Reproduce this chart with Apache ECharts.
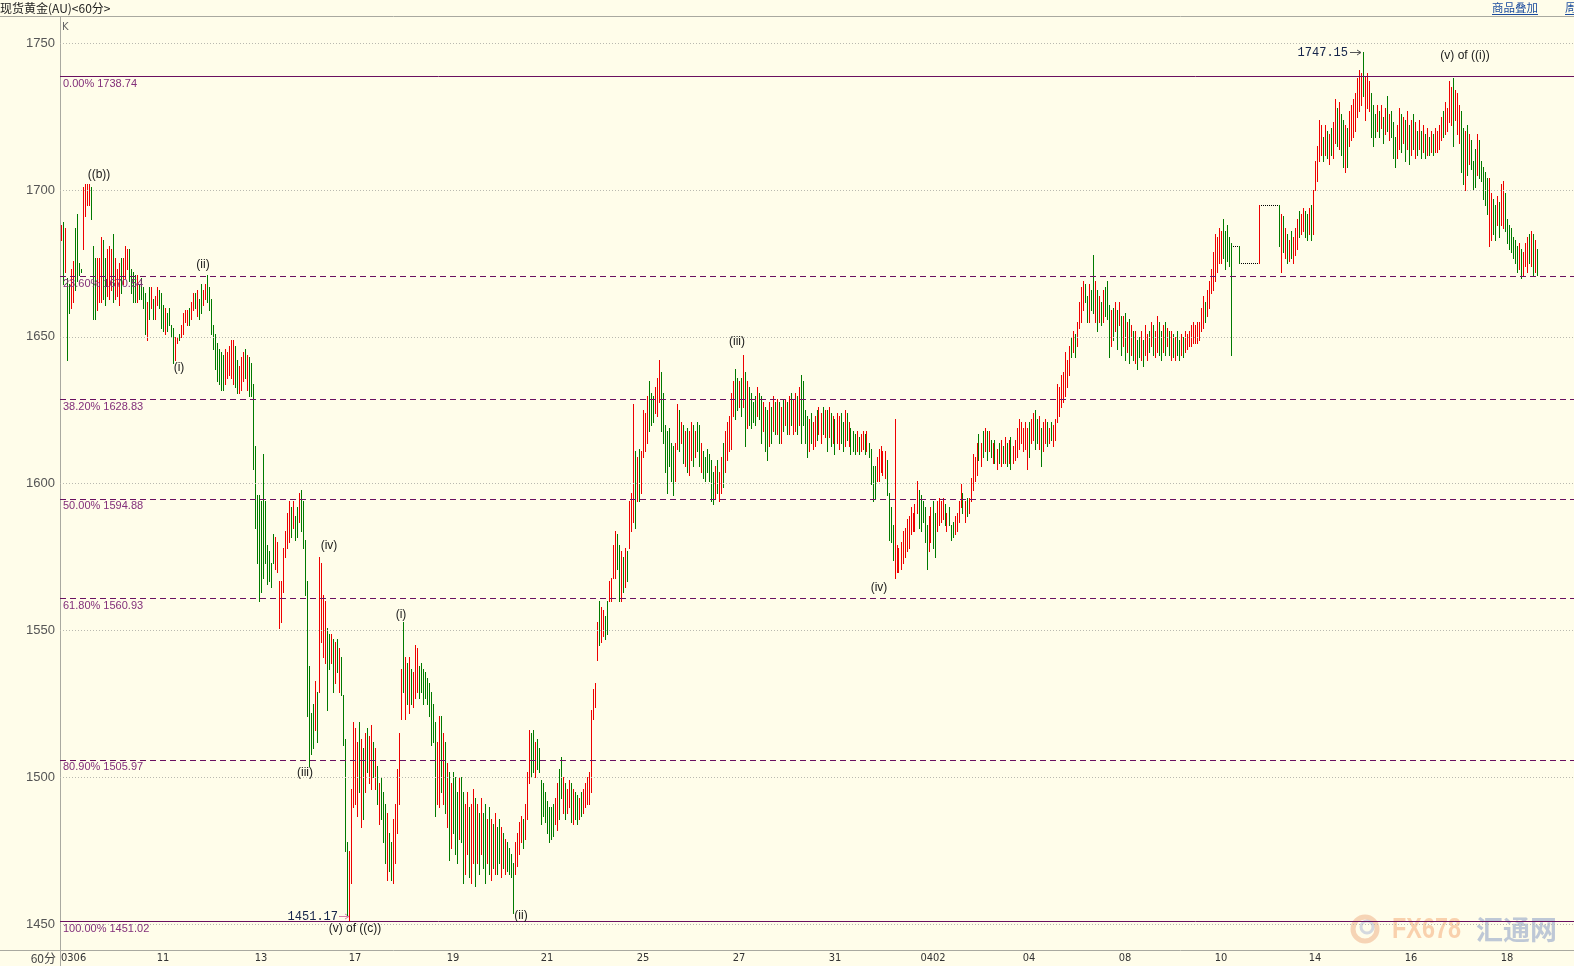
<!DOCTYPE html>
<html><head><meta charset="utf-8">
<script src="https://cdn.jsdelivr.net/npm/echarts@6/dist/echarts.min.js"></script>
<style>html,body{margin:0;padding:0;background:#fffdea;overflow:hidden;}#c{width:1574px;height:966px;}</style>
</head><body><div id="c"></div>
<script>
// ---- data (hourly bars) ----
const highs = [
1688,1689,1687,1670,1668,1673,1676,1687,1692,1675,
1673,1701,1702,1702,1702,1701,1681,1677,1677,1677,
1684,1683,1677,1680,1681,1680,1685,1677,1673,1675,
1677,1677,1681,1680,1680,1673,1672,1671,1671,1668,
1670,1667,1665,1662,1667,1667,1663,1664,1667,1666,
1665,1661,1660,1658,1660,1654,1653,1650,1650,1651,
1654,1658,1659,1659,1660,1662,1665,1665,1666,1663,
1668,1666,1668,1671,1667,1663,1654,1651,1648,1646,
1645,1644,1646,1645,1647,1649,1649,1647,1642,1640,
1643,1645,1646,1644,1643,1641,1634,1613,1596,1596,
1594,1610,1594,1579,1577,1573,1583,1582,1580,1567,
1567,1578,1584,1590,1594,1592,1594,1589,1592,1597,
1598,1594,1581,1567,1538,1522,1525,1533,1529,1575,
1573,1562,1560,1551,1549,1549,1547,1546,1547,1544,
1541,1528,1513,1478,1475,1496,1519,1517,1512,1519,
1513,1510,1515,1517,1514,1518,1512,1510,1504,1498,
1500,1495,1491,1488,1481,1478,1486,1491,1503,1515,
1537,1553,1541,1539,1541,1537,1536,1545,1544,1538,
1539,1537,1536,1534,1532,1529,1525,1519,1512,1521,
1521,1515,1512,1505,1502,1498,1502,1500,1495,1500,
1500,1495,1491,1495,1490,1491,1496,1493,1491,1488,
1493,1488,1491,1486,1490,1486,1484,1488,1483,1486,
1483,1481,1479,1478,1476,1474,1471,1478,1481,1485,
1487,1486,1491,1502,1516,1515,1516,1512,1513,1510,
1499,1498,1495,1492,1490,1490,1491,1493,1498,1503,
1507,1500,1498,1496,1499,1498,1496,1495,1494,1493,
1495,1496,1498,1500,1502,1523,1530,1532,1553,1560,
1558,1557,1555,1560,1567,1568,1579,1584,1583,1579,
1577,1575,1578,1577,1594,1597,1627,1611,1609,1612,
1611,1625,1624,1630,1635,1631,1630,1633,1636,1642,
1638,1631,1620,1618,1619,1614,1613,1614,1627,1625,
1621,1620,1618,1619,1618,1621,1620,1618,1621,1620,
1614,1611,1609,1612,1610,1608,1604,1606,1608,1604,
1609,1614,1618,1621,1623,1631,1635,1639,1636,1635,
1636,1644,1638,1635,1633,1631,1628,1630,1633,1631,
1630,1628,1626,1625,1628,1626,1630,1628,1629,1628,
1626,1629,1629,1628,1630,1631,1629,1631,1630,1633,
1637,1635,1625,1623,1622,1624,1621,1623,1625,1626,
1624,1626,1625,1625,1626,1624,1623,1622,1624,1623,
1624,1621,1625,1624,1621,1619,1618,1617,1618,1616,
1617,1618,1617,1618,1614,1612,1606,1606,1609,1612,
1613,1611,1611,1608,1597,1592,1586,1622,1579,1578,
1580,1584,1585,1588,1589,1592,1590,1593,1601,1598,
1596,1594,1592,1586,1589,1592,1594,1590,1594,1595,
1594,1595,1593,1590,1592,1586,1587,1589,1590,1594,
1600,1597,1594,1595,1595,1602,1610,1609,1614,1617,
1614,1618,1619,1618,1618,1615,1614,1615,1612,1614,
1615,1613,1616,1614,1615,1616,1613,1615,1619,1622,
1621,1619,1621,1619,1621,1622,1624,1625,1622,1623,
1619,1621,1622,1621,1619,1621,1620,1622,1634,1633,
1637,1638,1645,1642,1647,1650,1652,1651,1655,1662,
1667,1669,1668,1664,1668,1666,1678,1669,1666,1664,
1662,1666,1667,1669,1661,1659,1660,1662,1659,1662,
1657,1657,1658,1655,1656,1654,1652,1652,1649,1650,
1652,1649,1654,1651,1652,1655,1654,1652,1657,1655,
1652,1654,1655,1653,1652,1652,1651,1650,1652,1649,
1651,1650,1652,1651,1652,1654,1655,1654,1655,1655,
1660,1664,1662,1666,1669,1673,1679,1685,1684,1687,
1686,1690,1686,1688,1684,1682,1681,1681,1681,1681,
1675,1675,1675,1675,1675,1675,1675,1675,1675,1695,
1695,1695,1695,1695,1695,1695,1695,1695,1695,1695,
1692,1691,1687,1685,1683,1686,1684,1687,1690,1693,
1692,1694,1693,1692,1694,1695,1700,1710,1715,1724,
1722,1718,1722,1720,1719,1721,1723,1731,1728,1730,
1726,1724,1722,1721,1727,1729,1731,1733,1738,1741,
1740,1747.15,1739,1740,1737,1733,1729,1726,1729,1727,
1729,1725,1728,1732,1726,1727,1723,1718,1722,1728,
1726,1725,1724,1727,1722,1724,1726,1723,1720,1724,
1720,1722,1719,1721,1718,1720,1719,1721,1720,1722,
1725,1727,1730,1728,1737,1735,1738,1734,1733,1729,
1727,1721,1720,1722,1719,1717,1710,1714,1719,1717,
1710,1708,1706,1704,1704,1699,1697,1695,1698,1696,
1702,1703,1699,1690,1688,1687,1684,1683,1681,1682,
1680,1679,1682,1684,1685,1686,1685,1683,1680
];
const lows = [
1683,1668,1672,1642,1658,1660,1662,1666,1669,1671,
1672,1680,1691,1695,1695,1690,1656,1656,1659,1662,
1662,1663,1661,1664,1663,1666,1662,1663,1664,1661,
1665,1668,1670,1673,1669,1665,1662,1662,1662,1663,
1663,1660,1651,1649,1656,1660,1656,1656,1661,1660,
1653,1652,1651,1652,1654,1650,1641,1642,1648,1649,
1650,1651,1655,1654,1654,1656,1659,1660,1657,1656,
1658,1661,1663,1662,1659,1651,1646,1639,1635,1634,
1632,1632,1634,1636,1637,1636,1634,1633,1631,1631,
1632,1635,1636,1632,1630,1630,1605,1585,1573,1560,
1563,1568,1573,1566,1567,1565,1573,1571,1570,1551,
1553,1563,1575,1578,1580,1582,1585,1581,1582,1587,
1584,1578,1562,1521,1504,1508,1510,1516,1512,1529,
1546,1541,1539,1523,1537,1539,1529,1532,1536,1529,
1528,1511,1475,1453,1451.17,1464,1490,1491,1487,1495,
1483,1486,1495,1502,1498,1496,1500,1496,1491,1484,
1486,1478,1471,1465,1468,1465,1464,1471,1481,1491,
1520,1529,1520,1525,1522,1525,1524,1527,1529,1527,
1529,1525,1527,1525,1521,1511,1512,1487,1491,1490,
1495,1491,1488,1483,1472,1476,1481,1474,1471,1479,
1478,1464,1467,1474,1466,1464,1471,1463,1471,1467,
1474,1469,1464,1471,1467,1465,1469,1467,1467,1471,
1466,1469,1467,1468,1467,1466,1454,1467,1470,1474,
1478,1476,1479,1486,1498,1500,1502,1500,1503,1502,
1484,1487,1485,1481,1478,1479,1480,1484,1482,1486,
1493,1488,1486,1488,1490,1485,1484,1486,1484,1486,
1487,1488,1490,1491,1491,1495,1520,1524,1540,1545,
1546,1548,1547,1549,1560,1560,1568,1568,1571,1560,
1560,1563,1565,1567,1578,1584,1587,1585,1594,1594,
1597,1609,1611,1614,1618,1620,1621,1624,1623,1628,
1618,1614,1604,1597,1606,1601,1596,1601,1612,1611,
1614,1607,1606,1604,1603,1608,1606,1609,1611,1606,
1604,1602,1601,1604,1601,1594,1593,1595,1597,1594,
1597,1599,1604,1608,1611,1612,1623,1622,1625,1626,
1623,1626,1613,1619,1620,1619,1621,1620,1623,1622,
1614,1618,1611,1608,1613,1614,1618,1617,1617,1614,
1614,1618,1620,1617,1617,1620,1617,1618,1617,1620,
1614,1620,1614,1609,1611,1614,1612,1613,1615,1617,
1614,1617,1616,1611,1616,1613,1614,1610,1614,1612,
1614,1611,1613,1615,1613,1610,1611,1610,1611,1610,
1611,1612,1610,1611,1609,1600,1594,1595,1601,1601,
1604,1603,1602,1596,1581,1580,1574,1568,1570,1570,
1571,1573,1575,1577,1578,1583,1584,1584,1590,1585,
1584,1587,1580,1571,1577,1580,1578,1575,1584,1586,
1587,1588,1586,1584,1586,1581,1582,1583,1584,1587,
1592,1590,1587,1589,1590,1594,1598,1601,1603,1608,
1606,1609,1611,1608,1611,1609,1607,1607,1605,1607,
1606,1607,1607,1606,1607,1605,1607,1608,1609,1612,
1614,1611,1612,1605,1609,1614,1615,1612,1614,1612,
1606,1611,1614,1613,1614,1615,1613,1615,1621,1623,
1626,1628,1630,1633,1637,1643,1645,1643,1647,1653,
1655,1659,1662,1655,1655,1659,1658,1655,1652,1655,
1654,1655,1657,1656,1643,1647,1649,1652,1646,1654,
1644,1647,1642,1645,1641,1644,1642,1641,1639,1643,
1642,1640,1644,1642,1645,1647,1644,1643,1645,1644,
1642,1645,1644,1647,1644,1642,1643,1642,1644,1642,
1644,1643,1645,1646,1647,1647,1648,1648,1648,1649,
1652,1653,1655,1657,1660,1665,1666,1669,1672,1675,
1675,1677,1673,1676,1674,1644,1681,1681,1681,1675,
1675,1675,1675,1675,1675,1675,1675,1675,1675,1675,
1695,1695,1695,1695,1695,1695,1695,1695,1695,1681,
1672,1679,1677,1675,1676,1677,1675,1678,1680,1684,
1685,1686,1684,1683,1685,1683,1685,1700,1703,1710,
1712,1710,1712,1711,1709,1712,1711,1716,1715,1714,
1712,1708,1706,1708,1715,1717,1718,1720,1725,1727,
1729,1732,1724,1728,1727,1718,1715,1718,1720,1718,
1721,1716,1719,1720,1717,1718,1711,1708,1711,1714,
1713,1716,1710,1714,1709,1712,1714,1711,1712,1714,
1711,1713,1711,1712,1712,1713,1712,1713,1713,1714,
1717,1718,1719,1720,1723,1722,1715,1724,1719,1716,
1706,1702,1700,1705,1709,1707,1700,1701,1705,1704,
1703,1697,1695,1692,1681,1683,1685,1683,1688,1684,
1688,1687,1686,1682,1680,1679,1677,1675,1672,1673,
1670,1671,1674,1672,1675,1674,1671,1672,1671
];
// u = up (red), d = down (green), f = flat
const dirs = [
'ududduuddd','duuuuddduu','udduuuduuu','duuuddddud','dddududuud','ddudddduud','uuuuduudud','duuddddddd',
'dduuuuuddu','uududddddd','ddddddduuu','uuuuududdu','dddddddudu','uuuddududu','dddduuuuud','ududuududu',
'dddudduuuu','udududuuud','dddddddduu','dudududddu','dduuduudud','uddudududd','ududddduuu','uduuuddudd',
'ddddddduud','duduududdu','duuuuuuuud','uudduuuudd','ududuuudud','uuuuddduuu','ddddddduud','ududuududd',
'uddddddudu','uduuuuuddu','dududdddud','duddududud','udududuudu','dddduduudu','ududududuu','ddududddud',
'uududddduu','uuudddduuu','uuuuuuuuud','dddduudduu','uududdduuu','ududuuuuud','ududududud','udududuuuu',
'uuuuduuddu','duududuuuu','uuuuududuu','uudduddudu','dudddududu','dududududd','uduududuud','dududududd',
'uduuuuuuuu','uuduuuuuuu','udddddfffd','fffffffffu','fffffffffd','udududuuud','uudduduuuu','udududuudu',
'dduduuuuuu','uduuudddud','udududdduu','dududududu','dudududuuu','uduuuuduuu','ddududddud','dddduuddud',
'uudddddddu','duuududud'
].join('');

const dayLabels = ['0306','11','13','17','19','21','25','27','31','0402','04','08','10','14','16','18'];
const dayIndex  = [0,51,100,147,196,243,291,339,387,436,484,532,580,627,675,723];

const yTicks = [1450,1500,1550,1600,1650,1700,1750];

const fibPct    = ['0.00','23.60','38.20','50.00','61.80','80.90','100.00'];
const fibLevels = [1738.74,1670.54,1628.83,1594.88,1560.93,1505.97,1451.02];

const waveText  = ['((b))','(ii)','(i)','(iii)','(iv)','(v) of ((c))','(i)','(ii)','(iii)','(iv)','(v) of ((i))'];
const waveIdx   = [18.5,71,59,121.5,134,147,169.5,230,338,408.5,702];
const wavePrice = [1705.1,1674.5,1639.4,1501.5,1578.8,1448.4,1555.3,1452.8,1648.3,1564.5,1745.6];

// ---- build ----
const N_CAT = 757;
const categories = [];
for (let i = 0; i < N_CAT; i++) categories.push(String(i));
const labelMap = {};
dayLabels.forEach((t, k) => { labelMap[dayIndex[k]] = t; });

const dirCode = { u: 1, d: -1, f: 0 };
const bars = highs.map((h, i) => [i, h, lows[i], dirCode[dirs[i]]]);

const UP = '#ee0000', DOWN = '#007a00', FLAT = '#000000';

const markLines = [];
yTicks.forEach(v => markLines.push({
  yAxis: v, lineStyle: { color: '#b9b9b0', type: [1, 2], width: 1 }, label: { show: false }
}));
fibLevels.forEach((v, k) => {
  const solid = (k === 0 || k === fibLevels.length - 1);
  markLines.push({
    yAxis: v,
    lineStyle: { color: '#6a1060', type: solid ? 'solid' : [6, 4], width: 1 },
    label: {
      show: true, position: 'insideStartBottom', formatter: fibPct[k] + '% ' + v.toFixed(2),
      color: '#83307a', fontSize: 11, fontFamily: 'Liberation Sans', distance: [3, 2]
    }
  });
});

const wavePoints = waveText.map((t, k) => ({
  coord: [waveIdx[k], wavePrice[k]], value: t,
  label: { show: true, formatter: t, position: 'inside', color: '#1a1a1a', fontSize: 12, fontFamily: 'Liberation Sans' }
}));

const chart = echarts.init(document.getElementById('c'), null, { renderer: 'canvas', devicePixelRatio: 1 });
chart.setOption({
  backgroundColor: '#fffdea',
  animation: false,
  grid: { left: 60, right: 0, top: 16, bottom: 16, containLabel: false },
  xAxis: {
    type: 'category', data: categories, boundaryGap: true,
    axisLine: { show: false }, axisTick: { show: false }, splitLine: { show: false },
    axisLabel: {
      interval: (i) => labelMap[i] !== undefined,
      formatter: (v, i) => labelMap[i] || '',
      color: '#333', fontSize: 11, fontFamily: 'DejaVu Sans Condensed, Liberation Sans Narrow, Liberation Sans',
      margin: 3, alignMinLabel: 'left'
    }
  },
  yAxis: {
    type: 'value', min: 1441.25, max: 1759.26, position: 'left',
    axisLine: { show: false }, axisTick: { show: false }, splitLine: { show: false },
    axisLabel: { customValues: yTicks, formatter: (v) => String(v), color: '#555', fontSize: 13, fontFamily: 'Liberation Sans', margin: 5 }
  },
  series: [
    {
      type: 'custom', name: 'K', data: bars, encode: { x: 0, y: [1, 2] }, silent: true, clip: true,
      renderItem: function (params, api) {
        const i = api.value(0), h = api.value(1), l = api.value(2), d = api.value(3);
        const p1 = api.coord([i, h]), p2 = api.coord([i, l]);
        const x = Math.floor(p1[0]);
        const y1 = Math.round(p1[1]), y2 = Math.round(p2[1]);
        return {
          type: 'rect',
          shape: { x: x, y: y1, width: 1, height: Math.max(1, y2 - y1 + 1) },
          style: { fill: d === 1 ? UP : (d === -1 ? DOWN : FLAT) }
        };
      }
    },
    {
      type: 'line', data: [], silent: true,
      markLine: { symbol: ['none', 'none'], silent: true, animation: false, data: markLines },
      markPoint: { symbol: 'circle', symbolSize: 0, silent: true, animation: false, data: wavePoints }
    }
  ],
  graphic: [
    { type: 'line', shape: { x1: 0, y1: 16.5, x2: 1574, y2: 16.5 }, style: { stroke: '#a9a9a0', lineWidth: 1 } },
    { type: 'line', shape: { x1: 0, y1: 950.5, x2: 1574, y2: 950.5 }, style: { stroke: '#a9a9a0', lineWidth: 1 } },
    { type: 'line', shape: { x1: 60.5, y1: 16, x2: 60.5, y2: 966 }, style: { stroke: '#a9a9a0', lineWidth: 1 } },
    { type: 'text', x: 0, y: 8, style: { text: '现货黄金(AU)<60分>', font: '12px "Noto Sans CJK SC"', fill: '#222', textVerticalAlign: 'middle' } },
    { type: 'text', x: 1492, y: 8, style: { text: '商品叠加', font: '11.5px "Noto Sans CJK SC"', fill: '#1c4c9e', textVerticalAlign: 'middle' } },
    { type: 'line', shape: { x1: 1492, y1: 14.5, x2: 1538, y2: 14.5 }, style: { stroke: '#1c4c9e', lineWidth: 1 } },
    { type: 'text', x: 1565, y: 8, style: { text: '周期', font: '11.5px "Noto Sans CJK SC"', fill: '#1c4c9e', textVerticalAlign: 'middle' } },
    { type: 'line', shape: { x1: 1565, y1: 14.5, x2: 1574, y2: 14.5 }, style: { stroke: '#1c4c9e', lineWidth: 1 } },
    { type: 'text', x: 62, y: 27, style: { text: 'K', font: '10px "DejaVu Sans"', fill: '#666', textVerticalAlign: 'middle' } },
    { type: 'text', x: 56, y: 958, style: { text: '60分', font: '12px "Noto Sans CJK SC"', fill: '#444', textAlign: 'right', textVerticalAlign: 'middle' } },
    // extreme price labels
    { type: 'text', x: 1348, y: 53, style: { text: '1747.15', font: '12px "Liberation Mono"', fill: '#15244a', textAlign: 'right', textVerticalAlign: 'middle' } },
    { type: 'polyline', shape: { points: [[1350, 52.5], [1361, 52.5]] }, style: { stroke: '#555', lineWidth: 1 } },
    { type: 'polyline', shape: { points: [[1357, 50], [1361, 52.5], [1357, 55]] }, style: { stroke: '#555', fill: 'none', lineWidth: 1 } },
    { type: 'text', x: 338, y: 917, style: { text: '1451.17', font: '12px "Liberation Mono"', fill: '#15244a', textAlign: 'right', textVerticalAlign: 'middle' } },
    { type: 'polyline', shape: { points: [[339, 916.5], [349, 916.5]] }, style: { stroke: '#d47aa8', lineWidth: 1 } },
    { type: 'polyline', shape: { points: [[345, 914], [349, 916.5], [345, 919]] }, style: { stroke: '#d47aa8', fill: 'none', lineWidth: 1 } },
    // watermark
    { type: 'circle', shape: { cx: 1365, cy: 929, r: 12 }, style: { stroke: '#f4c9a8', lineWidth: 5, fill: 'none', opacity: 0.8 } },
    { type: 'circle', shape: { cx: 1367, cy: 927, r: 6 }, style: { stroke: '#c9cfdc', lineWidth: 3, fill: 'none', opacity: 0.8 } },
    { type: 'text', x: 1392, y: 930, scaleX: 0.78, style: { text: 'FX678', font: 'bold 30px "Liberation Sans"', fill: '#f8c9a2', opacity: 0.85, textVerticalAlign: 'middle' } },
    { type: 'text', x: 1476, y: 930, style: { text: '汇通网', font: 'bold 27px "Noto Sans CJK SC"', fill: '#b3bed2', opacity: 0.85, textVerticalAlign: 'middle' } }
  ]
});
if (highs.length !== lows.length || highs.length !== dirs.length) {
  chart.setOption({ graphic: [{ type: 'text', x: 600, y: 300, style: { text: 'LEN ' + highs.length + ' ' + lows.length + ' ' + dirs.length, font: '30px sans-serif', fill: 'blue' } }] });
}
</script>
</body></html>
